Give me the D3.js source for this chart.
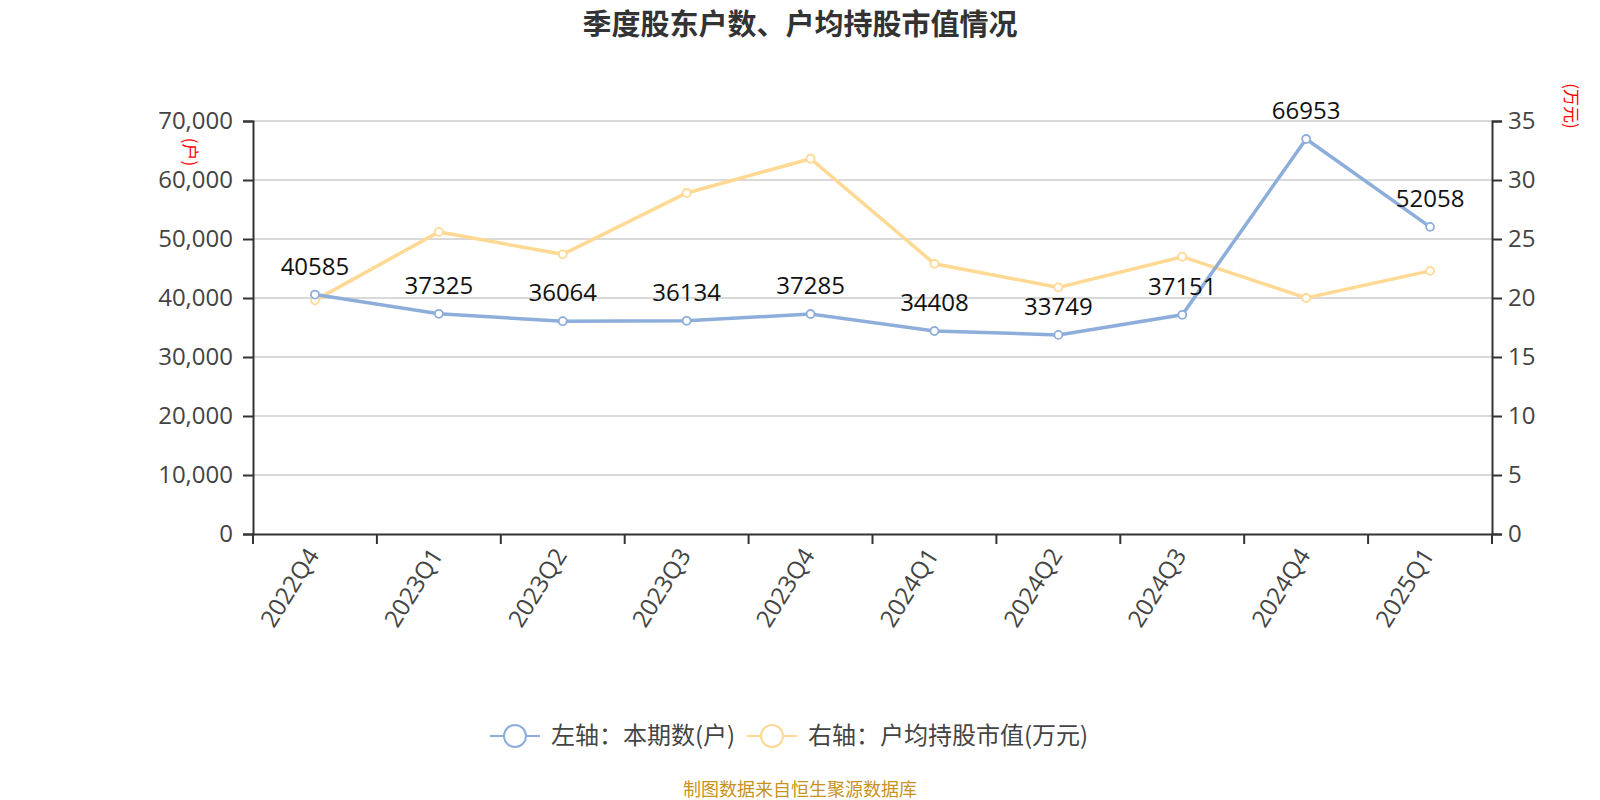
<!DOCTYPE html>
<html>
<head>
<meta charset="utf-8">
<script src="https://cdn.jsdelivr.net/npm/d3@7"></script>
<style>
  body { margin: 0; background: #fff; }
  svg text { font-family: "Noto Sans CJK SC", "Open Sans", sans-serif; }
</style>
</head>
<body>
<svg id="chart" width="1600" height="800"></svg>
<script>
// data
const quarters = ["2022Q4","2023Q1","2023Q2","2023Q3","2023Q4","2024Q1","2024Q2","2024Q3","2024Q4","2025Q1"];
const holders = [40585, 37325, 36064, 36134, 37285, 34408, 33749, 37151, 66953, 52058];
const avgValue = [19.8, 25.6, 23.7, 28.9, 31.8, 22.9, 20.9, 23.5, 20.0, 22.3];
const leftTicks = [0, 10000, 20000, 30000, 40000, 50000, 60000, 70000];
const rightTicks = [0, 5, 10, 15, 20, 25, 30, 35];

const blue = "#8daedb", yellow = "#fed993";
const numFont = "'Open Sans', 'Noto Sans CJK SC', sans-serif";
const svg = d3.select("#chart");
const pLeft = 253, pRight = 1492, pTop = 121, pBottom = 534;

const x = d3.scaleBand().domain(quarters).range([pLeft, pRight]);
const yL = d3.scaleLinear().domain([0, 70000]).range([pBottom, pTop]);
const yR = d3.scaleLinear().domain([0, 35]).range([pBottom, pTop]);

// title
svg.append("text").attr("x", 800).attr("y", 35).attr("text-anchor", "middle")
  .attr("font-size", 29).attr("font-weight", "bold").attr("fill", "#333")
  .text("季度股东户数、户均持股市值情况");

// grid
svg.append("g").selectAll("line").data(leftTicks.slice(1)).join("line")
  .attr("x1", pLeft).attr("x2", pRight)
  .attr("y1", d => yL(d)).attr("y2", d => yL(d))
  .attr("stroke", "#ccc").attr("stroke-width", 1.5);

// axes
const gl = svg.append("g").attr("transform", `translate(${pLeft},0)`)
  .call(d3.axisLeft(yL).tickValues(leftTicks).tickFormat(d3.format(",")).tickSizeOuter(0).tickSize(10).tickPadding(10));
const gr = svg.append("g").attr("transform", `translate(${pRight},0)`)
  .call(d3.axisRight(yR).tickValues(rightTicks).tickSizeOuter(0).tickSize(10).tickPadding(6));
const gx = svg.append("g").attr("transform", `translate(0,${pBottom})`)
  .call(d3.axisBottom(x).tickSize(0).tickPadding(0));
[gl, gr, gx].forEach(g => {
  g.select(".domain").attr("stroke", "#333").attr("stroke-width", 2);
  g.selectAll(".tick line").attr("stroke", "#333").attr("stroke-width", 2);
  g.selectAll("text").attr("font-size", 24).attr("fill", "#444").style("font-family", numFont);
});
gx.selectAll(".tick text")
  .attr("text-anchor", "end")
  .attr("dy", 0)
  .attr("transform", "translate(5,21) rotate(-58)");
// x ticks at band boundaries
svg.append("g").selectAll("line")
  .data(quarters.map(q => x(q)).concat([pRight])).join("line")
  .attr("x1", d => d).attr("x2", d => d)
  .attr("y1", pBottom).attr("y2", pBottom + 10)
  .attr("stroke", "#333").attr("stroke-width", 2);

// unit labels
svg.append("text").attr("transform", "translate(190,152) rotate(90)")
  .attr("text-anchor", "middle").attr("font-size", 17).attr("fill", "red").attr("dy", "0.35em").text("(户)");
svg.append("text").attr("transform", "translate(1571,106) rotate(90)")
  .attr("text-anchor", "middle").attr("font-size", 17).attr("fill", "red").attr("dy", "0.35em").text("(万元)");

const cx = d => x(d) + x.bandwidth() / 2;

// yellow line
svg.append("path").datum(avgValue)
  .attr("d", d3.line().x((d, i) => cx(quarters[i])).y(d => yR(d)))
  .attr("fill", "none").attr("stroke", yellow).attr("stroke-width", 3.5);
svg.append("g").selectAll("circle").data(avgValue).join("circle")
  .attr("cx", (d, i) => cx(quarters[i])).attr("cy", d => yR(d)).attr("r", 4)
  .attr("fill", "#fff").attr("stroke", yellow).attr("stroke-width", 1.8);

// blue line
svg.append("path").datum(holders)
  .attr("d", d3.line().x((d, i) => cx(quarters[i])).y(d => yL(d)))
  .attr("fill", "none").attr("stroke", blue).attr("stroke-width", 3.5);
svg.append("g").selectAll("circle").data(holders).join("circle")
  .attr("cx", (d, i) => cx(quarters[i])).attr("cy", d => yL(d)).attr("r", 4)
  .attr("fill", "#fff").attr("stroke", blue).attr("stroke-width", 1.8);
svg.append("g").selectAll("text").data(holders).join("text")
  .attr("x", (d, i) => cx(quarters[i])).attr("y", d => yL(d) - 20)
  .attr("text-anchor", "middle").attr("font-size", 24).attr("fill", "#111")
  .style("font-family", numFont)
  .text(d => d);

// legend
const legend = [
  {label: "左轴：本期数(户)", color: blue, x: 515},
  {label: "右轴：户均持股市值(万元)", color: yellow, x: 772}
];
const lg = svg.append("g");
legend.forEach(l => {
  lg.append("line").attr("x1", l.x - 25).attr("x2", l.x + 25).attr("y1", 736).attr("y2", 736)
    .attr("stroke", l.color).attr("stroke-width", 2);
  lg.append("circle").attr("cx", l.x).attr("cy", 736).attr("r", 11)
    .attr("fill", "#fff").attr("stroke", l.color).attr("stroke-width", 2);
  lg.append("text").attr("x", l.x + 36).attr("y", 736).attr("dy", "0.35em")
    .attr("font-size", 24).attr("fill", "#444").text(l.label);
});

// footer
svg.append("text").attr("x", 800).attr("y", 796).attr("text-anchor", "middle")
  .attr("font-size", 18).attr("fill", "#c8921e").text("制图数据来自恒生聚源数据库");
</script>
</body>
</html>
